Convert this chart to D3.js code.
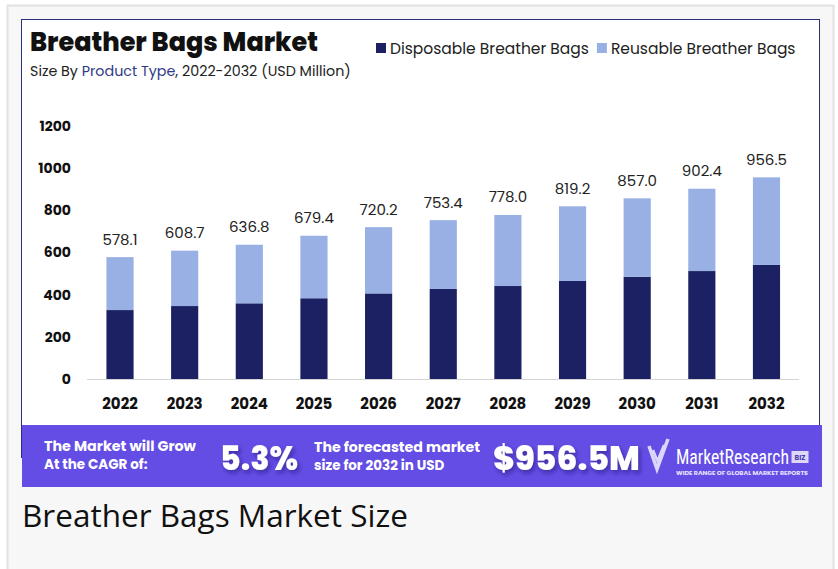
<!DOCTYPE html>
<html>
<head>
<meta charset="utf-8">
<script src="https://cdn.jsdelivr.net/npm/d3@7"></script>
<style>
  body { margin: 0; background: #fff; }
  svg { display: block; font-family: Poppins, Inter, Roboto, sans-serif; }
</style>
</head>
<body>
<div id="chart"></div>
<script>
var years = ['2022', '2023', '2024', '2025', '2026', '2027', '2028', '2029', '2030', '2031', '2032'];
var totals = [578.1, 608.7, 636.8, 679.4, 720.2, 753.4, 778.0, 819.2, 857.0, 902.4, 956.5];
var disposable = [327, 346, 359, 383, 406, 427, 441, 465, 485, 512, 541];
var reusable = [251.1, 262.7, 277.8, 296.4, 314.2, 326.4, 337.0, 354.2, 372.0, 390.4, 415.5];
var seriesNames = ['Disposable Breather Bags', 'Reusable Breather Bags'];
var yTicks = [0, 200, 400, 600, 800, 1000, 1200];

var W = 838, H = 569;
var colors = { disposable: '#1b2163', reusable: '#98b0e3' };

var svg = d3.select('#chart').append('svg')
  .attr('width', W)
  .attr('height', H);

var defs = svg.append('defs');
var shadow = defs.append('filter').attr('id', 'shadow')
  .attr('x', '-10%').attr('y', '-20%').attr('width', '130%').attr('height', '160%');
shadow.append('feDropShadow')
  .attr('dx', 2).attr('dy', 3).attr('stdDeviation', 2)
  .attr('flood-color', '#241570').attr('flood-opacity', 0.55);

// page panel + card
svg.append('rect').attr('x', 7.5).attr('y', 5.5).attr('width', 826).attr('height', 570)
  .attr('fill', '#f7f7f7').attr('stroke', '#e2e2e2').attr('stroke-width', 2);
svg.append('rect').attr('x', 21.5).attr('y', 19.5).attr('width', 798).attr('height', 438)
  .attr('fill', '#fff').attr('stroke', '#2a2f7a').attr('stroke-width', 1);

// title
svg.append('text').attr('x', 30).attr('y', 51)
  .attr('font-size', 26).attr('font-weight', 800).attr('fill', '#111')
  .attr('textLength', 288).attr('lengthAdjust', 'spacingAndGlyphs')
  .text('Breather Bags Market');
var sub = svg.append('text').attr('x', 30).attr('y', 76)
  .attr('font-size', 14.3).attr('fill', '#222');
sub.append('tspan').text('Size By ');
sub.append('tspan').attr('fill', '#2f3b86').text('Product Type');
sub.append('tspan').text(', 2022-2032 (USD Million)');

// legend
var legend = svg.append('g').attr('font-size', 15.5).attr('fill', '#222');
var lx = 376;
seriesNames.forEach(function (name, i) {
  legend.append('rect').attr('x', lx).attr('y', 43).attr('width', 10).attr('height', 10)
    .attr('fill', i === 0 ? colors.disposable : colors.reusable);
  var t = legend.append('text').attr('x', lx + 14).attr('y', 54).text(name);
  lx += 14 + t.node().getComputedTextLength() + 8;
});

// scales
var x = d3.scaleBand().domain(years).range([87.7, 798.8])
  .paddingInner(0.58).paddingOuter(0.29);
var y = d3.scaleLinear().domain([0, 1200]).range([379, 126]);

var rows = years.map(function (yr, i) {
  return { year: yr, disposable: disposable[i], reusable: reusable[i], total: totals[i] };
});
var stacked = d3.stack().keys(['disposable', 'reusable'])(rows);

svg.append('g').selectAll('g')
  .data(stacked)
  .enter().append('g')
  .attr('fill', function (d) { return colors[d.key]; })
  .selectAll('rect')
  .data(function (d) { return d; })
  .enter().append('rect')
  .attr('x', function (d) { return x(d.data.year); })
  .attr('y', function (d) { return y(d[1]); })
  .attr('width', x.bandwidth())
  .attr('height', function (d) { return y(d[0]) - y(d[1]); });

// baseline
svg.append('line').attr('x1', 87).attr('x2', 799).attr('y1', 379.5).attr('y2', 379.5)
  .attr('stroke', '#d4d4d4').attr('stroke-width', 1);

// value labels
svg.append('g').selectAll('text')
  .data(rows)
  .enter().append('text')
  .attr('x', function (d) { return x(d.year) + x.bandwidth() / 2; })
  .attr('y', function (d) { return y(d.total) - 12.5; })
  .attr('text-anchor', 'middle')
  .attr('font-size', 15).attr('fill', '#222')
  .text(function (d) { return d.total.toFixed(1); });

// y axis
var yAxis = svg.append('g').attr('transform', 'translate(79,0)')
  .call(d3.axisLeft(y).tickValues(yTicks).tickFormat(d3.format('d')).tickSize(0).tickPadding(8));
yAxis.select('.domain').remove();
yAxis.selectAll('text')
  .attr('font-family', 'Poppins, Inter, Roboto, sans-serif')
  .attr('font-size', 14).attr('font-weight', 700).attr('fill', '#111');

// x axis
var xAxis = svg.append('g').attr('transform', 'translate(0,379)')
  .call(d3.axisBottom(x).tickSize(0).tickPadding(19));
xAxis.select('.domain').remove();
xAxis.selectAll('text')
  .attr('font-family', 'Poppins, Inter, Roboto, sans-serif')
  .attr('font-size', 15).attr('font-weight', 700).attr('fill', '#111');

// banner
var banner = svg.append('g');
banner.append('rect').attr('x', 22).attr('y', 425).attr('width', 800).attr('height', 62)
  .attr('fill', '#634de4');
var bt = banner.append('g').attr('fill', '#fff').attr('font-weight', 700).attr('font-size', 13.5);
bt.append('text').attr('x', 44).attr('y', 451).attr('textLength', 152)
  .attr('lengthAdjust', 'spacingAndGlyphs').text('The Market will Grow');
bt.append('text').attr('x', 44).attr('y', 469).text('At the CAGR of:');
bt.append('text').attr('x', 314).attr('y', 452).attr('textLength', 166)
  .attr('lengthAdjust', 'spacingAndGlyphs').text('The forecasted market');
bt.append('text').attr('x', 314).attr('y', 470).text('size for 2032 in USD');
bt.append('text').attr('x', 220).attr('y', 470).attr('font-size', 33).attr('font-weight', 800)
  .attr('textLength', 78).attr('lengthAdjust', 'spacingAndGlyphs')
  .attr('filter', 'url(#shadow)').text('5.3%');
bt.append('text').attr('x', 493).attr('y', 470).attr('font-size', 33).attr('font-weight', 800)
  .attr('textLength', 147).attr('lengthAdjust', 'spacingAndGlyphs')
  .attr('filter', 'url(#shadow)').text('$956.5M');

// logo
var logo = banner.append('g').attr('fill', 'none').attr('stroke', '#dcd6fb')
  .attr('stroke-linejoin', 'miter');
logo.append('path').attr('d', 'M649,446 L657,469 L668,439').attr('stroke-width', 3.5);
logo.append('path').attr('d', 'M653,450 L657.5,461 L664,445').attr('stroke-width', 2.5);
banner.append('text').attr('x', 676).attr('y', 464)
  .attr('font-family', '"Liberation Sans Narrow", "Roboto Condensed", Roboto, sans-serif')
  .attr('font-size', 21).attr('fill', '#fff')
  .attr('textLength', 113).attr('lengthAdjust', 'spacingAndGlyphs')
  .text('MarketResearch');
banner.append('rect').attr('x', 791.5).attr('y', 451).attr('width', 17).attr('height', 12)
  .attr('fill', '#ddd8fa');
banner.append('text').attr('x', 800).attr('y', 460).attr('text-anchor', 'middle')
  .attr('font-size', 7).attr('font-weight', 700).attr('fill', '#4a3bb5').text('BIZ');
banner.append('text').attr('x', 676).attr('y', 474.5)
  .attr('font-size', 5).attr('font-weight', 700).attr('fill', '#e8e4ff')
  .attr('textLength', 132).attr('lengthAdjust', 'spacingAndGlyphs')
  .text('WIDE RANGE OF GLOBAL MARKET REPORTS');

// caption below
svg.append('text').attr('x', 22).attr('y', 527)
  .attr('font-family', '"Open Sans", sans-serif')
  .attr('font-size', 31.5).attr('fill', '#111')
  .text('Breather Bags Market Size');
</script>
</body>
</html>
